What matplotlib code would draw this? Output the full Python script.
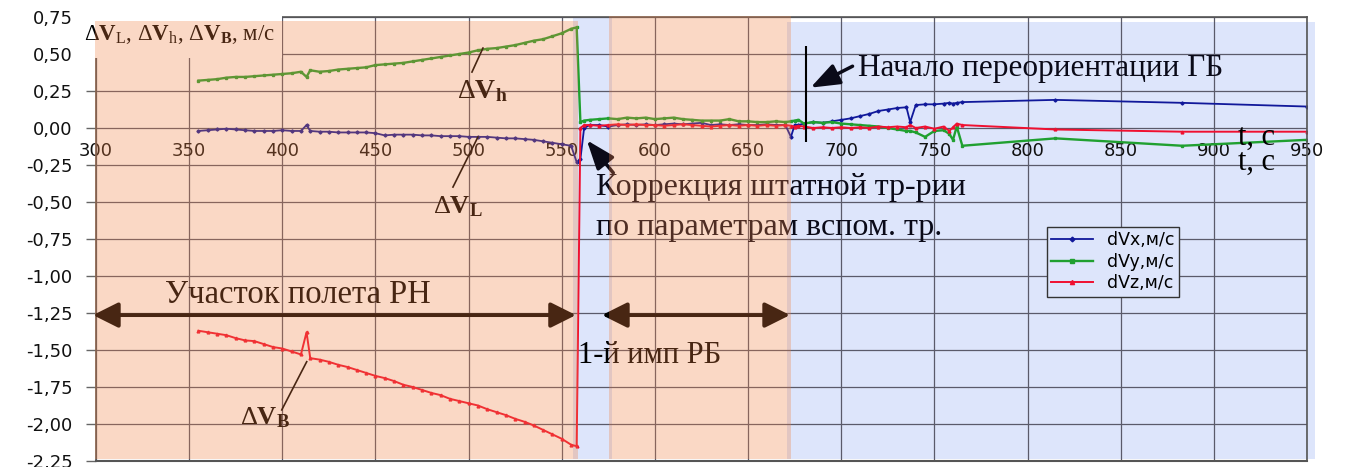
import matplotlib

matplotlib.use("Agg")
import matplotlib.pyplot as plt
from matplotlib.patches import Rectangle

plt.rcParams["mathtext.fontset"] = "custom"
plt.rcParams["mathtext.rm"] = "Liberation Serif"
plt.rcParams["mathtext.bf"] = "Liberation Serif:bold"
plt.rcParams["mathtext.it"] = "Liberation Serif:italic"

# time, s
t = [355, 360, 365, 370, 375, 380, 385, 390, 395, 400, 405, 410, 413, 415,
     420, 425, 430, 435, 440, 445, 450, 455, 460, 465, 470, 475, 480, 485,
     490, 495, 500, 505, 510, 515, 520, 525, 530, 535, 540, 545, 550, 555,
     558, 560, 562, 565, 570, 575, 580, 585, 590, 595, 600, 605, 610, 615,
     620, 625, 630, 635, 640, 645, 650, 655, 660, 665, 670, 673, 675, 677,
     680, 685, 690, 695, 700, 705, 710, 715, 720, 725, 730, 735, 737, 740,
     745, 750, 755, 758, 760, 762, 765, 815, 883, 950]

dvx = [-0.02, -0.015, -0.01, -0.005, -0.01, -0.015, -0.02, -0.02, -0.02, -0.015,
       -0.02, -0.02, 0.02, -0.02, -0.025, -0.025, -0.03, -0.03, -0.03, -0.03,
       -0.035, -0.05, -0.045, -0.045, -0.045, -0.05, -0.05, -0.055, -0.055, -0.055,
       -0.06, -0.06, -0.06, -0.065, -0.07, -0.07, -0.075, -0.08, -0.09, -0.10,
       -0.11, -0.12, -0.23, -0.21, 0.00, 0.02, 0.02, 0.01, 0.02, 0.025,
       0.02, 0.025, 0.02, 0.025, 0.03, 0.025, 0.03, 0.035, 0.02, 0.025,
       0.02, 0.025, 0.02, 0.02, 0.025, 0.02, 0.02, -0.06, 0.02, 0.02,
       0.03, 0.04, 0.035, 0.045, 0.055, 0.065, 0.08, 0.095, 0.115, 0.125,
       0.135, 0.14, 0.04, 0.155, 0.16, 0.16, 0.165, 0.17, 0.165, 0.17,
       0.175, 0.19, 0.17, 0.145]

dvy = [0.32, 0.325, 0.33, 0.34, 0.345, 0.345, 0.35, 0.355, 0.36, 0.365,
       0.37, 0.38, 0.345, 0.39, 0.38, 0.385, 0.395, 0.40, 0.405, 0.41,
       0.425, 0.43, 0.435, 0.44, 0.45, 0.46, 0.47, 0.48, 0.49, 0.50,
       0.51, 0.525, 0.535, 0.54, 0.55, 0.56, 0.575, 0.59, 0.60, 0.62,
       0.64, 0.67, 0.68, 0.04, 0.05, 0.055, 0.06, 0.065, 0.06, 0.07,
       0.065, 0.07, 0.06, 0.065, 0.07, 0.06, 0.055, 0.05, 0.05, 0.05,
       0.06, 0.045, 0.045, 0.04, 0.04, 0.045, 0.04, 0.045, 0.05, 0.055,
       0.03, 0.04, 0.035, 0.04, 0.03, 0.025, 0.02, 0.015, 0.01, 0.0,
       -0.01, -0.02, -0.02, -0.03, -0.06, -0.02, -0.015, -0.04, -0.08, 0.01,
       -0.12, -0.07, -0.12, -0.08]

dvz = [-1.37, -1.38, -1.39, -1.40, -1.42, -1.435, -1.44, -1.46, -1.48, -1.49,
       -1.51, -1.53, -1.38, -1.555, -1.565, -1.58, -1.60, -1.615, -1.635, -1.655,
       -1.675, -1.69, -1.71, -1.735, -1.75, -1.77, -1.79, -1.805, -1.83, -1.845,
       -1.86, -1.875, -1.90, -1.92, -1.94, -1.965, -1.985, -2.01, -2.04, -2.07,
       -2.10, -2.14, -2.15, 0.0, 0.02, 0.02, 0.015, 0.02, 0.025, 0.02,
       0.025, 0.02, 0.02, 0.015, 0.02, 0.025, 0.02, 0.015, 0.01, 0.015,
       0.02, 0.015, 0.02, 0.015, 0.02, 0.015, 0.02, 0.015, 0.01, 0.015,
       0.01, 0.0, 0.005, 0.0, 0.005, 0.0, 0.005, 0.0, 0.01, 0.005,
       0.01, 0.005, 0.02, 0.0, 0.01, -0.005, 0.01, -0.02, 0.005, 0.03,
       0.02, -0.01, -0.025, -0.025]

series_labels = ["dVx,м/с", "dVy,м/с", "dVz,м/с"]
x_ticks = [300, 350, 400, 450, 500, 550, 600, 650, 700, 750, 800, 850, 900, 950]
y_ticks = [0.75, 0.5, 0.25, 0.0, -0.25, -0.5, -0.75, -1.0, -1.25, -1.5,
           -1.75, -2.0, -2.25]
y_tick_labels = ["0,75", "0,50", "0,25", "0,00", "-0,25", "-0,50", "-0,75",
                 "-1,00", "-1,25", "-1,50", "-1,75", "-2,00", "-2,25"]

t_reorient = 681  # start of reorientation

ORANGE = "#f08040"
BLUE_BG = "#dde5fb"
INK = "#0a0a18"
SERIF = "Liberation Serif"

fig = plt.figure(figsize=(13.46, 4.67), dpi=100)
ax = fig.add_axes([96 / 1346, 6 / 467, 1211 / 1346, 444 / 467])
ax.set_xlim(300, 950)
ax.set_ylim(-2.25, 0.75)
ax.set_axisbelow(True)

# background phases (blue under, orange as translucent overlay)
for x0, x1, top in [(556, 577, 0.75), (671, 954.3, 0.716)]:
    ax.add_patch(Rectangle((x0, -2.237), x1 - x0, top + 2.237, facecolor=BLUE_BG,
                           edgecolor="none", zorder=0.2, clip_on=False))
for x0, x1, top in [(299.5, 558.7, 0.723), (575.4, 673, 0.757)]:
    ax.add_patch(Rectangle((x0, -2.237), x1 - x0, top + 2.237, facecolor=ORANGE,
                           alpha=0.3, edgecolor="none", zorder=10, clip_on=False))

ax.grid(True, color="#5a5a6a", linewidth=0.9)
ax.set_xticks(x_ticks)
ax.set_yticks(y_ticks)
ax.set_yticklabels(y_tick_labels)
ax.tick_params(axis="y", length=7, width=1, color="#666", pad=10,
               labelsize=13, labelcolor="#111")
ax.tick_params(axis="x", length=0, pad=10, labelsize=13, labelcolor="#111")
for lbl in ax.get_xticklabels() + ax.get_yticklabels():
    lbl.set_family("DejaVu Sans")

ax.spines["bottom"].set_position(("data", 0))
ax.spines["bottom"].set_visible(False)
for s in ["top", "left", "right"]:
    ax.spines[s].set_color("#555")
    ax.spines[s].set_linewidth(1.2)
ax.axhline(-2.25, color="#555", linewidth=1.5, clip_on=False, zorder=2.5)

# data
ax.plot(t, dvx, color="#10189a", lw=1.3, marker="D", ms=1.6, zorder=2, label=series_labels[0])
ax.plot(t, dvy, color="#20a030", lw=1.7, marker="s", ms=2, zorder=2, label=series_labels[1])
ax.plot(t, dvz, color="#f01030", lw=1.4, marker="^", ms=2, zorder=2.1, label=series_labels[2])

# white box behind the axis caption
ax.add_patch(Rectangle((293, 0.475), 107, 0.29, facecolor="white", edgecolor="none",
                       zorder=2.6, clip_on=False))
ax.text(293.5, 0.63, r"Δ$\mathbf{V}_{\mathrm{L}}$, Δ$\mathbf{V}_{\mathrm{h}}$, "
        r"Δ$\mathbf{V}_{\mathbf{B}}$, м/с",
        family=SERIF, fontsize=16.5, va="center", ha="left", zorder=3, clip_on=False)

# series captions with leader lines
ax.text(493.8, 0.203, r"Δ$\mathbf{V}_{\mathbf{h}}$", family=SERIF, fontsize=20,
        va="baseline", zorder=3)
ax.plot([501.8, 507.7], [0.378, 0.54], color="black", lw=1.2, zorder=3)
ax.text(480.9, -0.574, r"Δ$\mathbf{V}_{\mathbf{L}}$", family=SERIF, fontsize=19,
        va="baseline", zorder=3)
ax.plot([491.6, 505.0], [-0.399, -0.061], color="black", lw=1.2, zorder=3)
ax.text(377.3, -2.0, r"Δ$\mathbf{V}_{\mathbf{B}}$", family=SERIF, fontsize=19,
        va="baseline", zorder=3)
ax.plot([399.7, 413.1], [-1.905, -1.579], color="black", lw=1.2, zorder=3)

# reorientation marker
ax.vlines(t_reorient, -0.095, 0.554, color="black", lw=1.5, zorder=3)
ax.annotate("", xy=(682.2, 0.264), xytext=(707.4, 0.426),
            arrowprops=dict(arrowstyle="-|>,head_length=0.8,head_width=0.3",
                            color=INK, lw=2.5, mutation_scale=22), zorder=3)
ax.text(709, 0.405, "Начало переориентации ГБ", family=SERIF, fontsize=22.5,
        va="center", ha="left", color=INK, zorder=3)

# correction
ax.annotate("", xy=(562.5, -0.068), xytext=(578.6, -0.318),
            arrowprops=dict(arrowstyle="-|>,head_length=0.8,head_width=0.3",
                            color=INK, lw=2.5, mutation_scale=22), zorder=3)
ax.text(568.4, -0.399, "Коррекция штатной тр-рии", family=SERIF, fontsize=23,
        va="center", ha="left", color=INK, zorder=3)
ax.text(568.4, -0.669, "по параметрам вспом. тр.", family=SERIF, fontsize=23,
        va="center", ha="left", color=INK, zorder=3)

# flight phases
dbl = dict(arrowstyle="<|-|>,head_length=0.7,head_width=0.35", color="black",
           lw=2.8, mutation_scale=22, shrinkA=0, shrinkB=0)
ax.annotate("", xy=(557.6, -1.264), xytext=(298.4, -1.264), arrowprops=dbl,
            zorder=3, annotation_clip=False)
ax.annotate("", xy=(672.5, -1.264), xytext=(571.6, -1.264), arrowprops=dbl,
            zorder=3, annotation_clip=False)
ax.text(337, -1.128, "Участок полета РН", family=SERIF, fontsize=23.5,
        va="center", ha="left", zorder=3)
ax.text(558.7, -1.534, "1-й имп РБ", family=SERIF, fontsize=22,
        va="center", ha="left", zorder=3)

# time axis captions
ax.text(913, -0.061, "t, c", family=SERIF, fontsize=22, va="center", ha="left", zorder=3)
ax.text(913, -0.23, "t, c", family=SERIF, fontsize=22, va="center", ha="left", zorder=3)

leg = ax.legend(loc="upper left", bbox_to_anchor=(1047 / 1346, 1 - 227 / 467),
                bbox_transform=fig.transFigure, fancybox=False, framealpha=1,
                facecolor=BLUE_BG, edgecolor="#333",
                prop={"family": "DejaVu Sans", "size": 12.5}, handlelength=2.4,
                borderpad=0.25, labelspacing=0.2, borderaxespad=0, markerscale=1.5)
leg.get_frame().set_linewidth(1.0)
leg.set_zorder(12)

fig.savefig("out.png", dpi=100)
